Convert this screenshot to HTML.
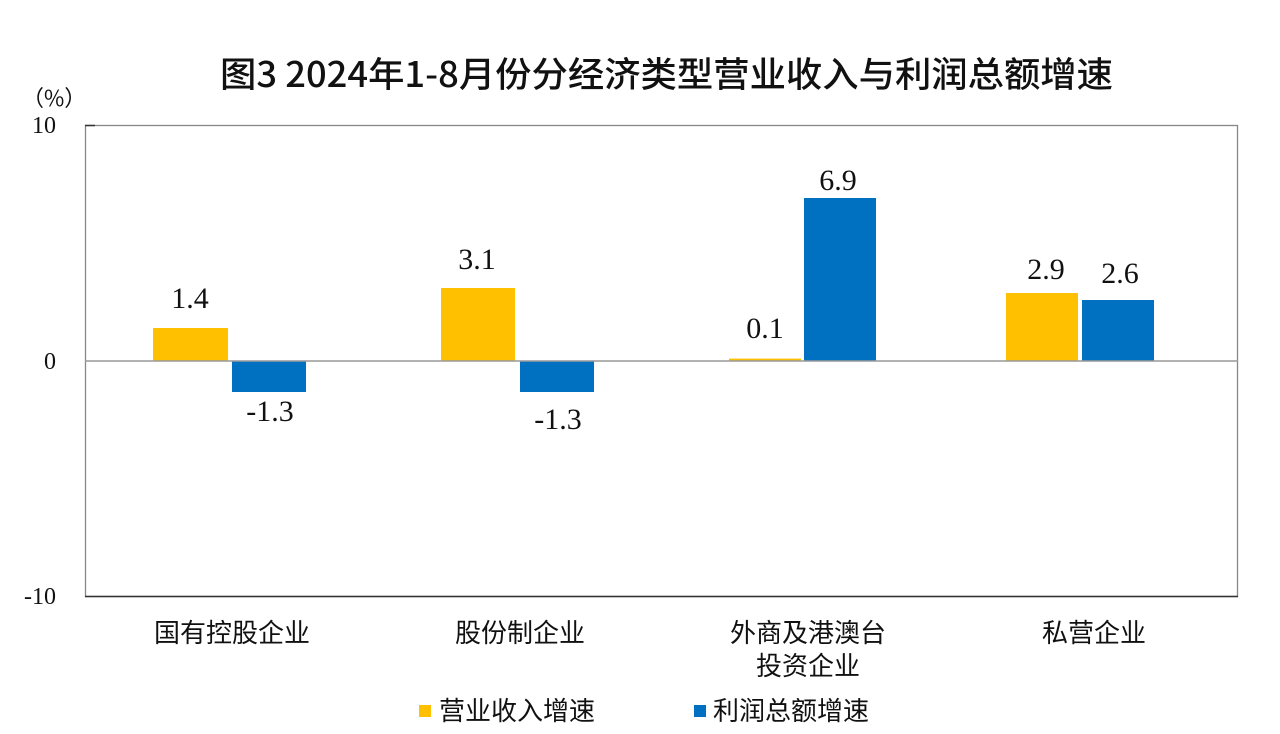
<!DOCTYPE html>
<html><head><meta charset="utf-8"><style>
html,body{margin:0;padding:0;background:#fff;}
svg{display:block;}
.v{font-family:"Liberation Serif",serif;font-size:30px;fill:#111;text-anchor:middle;}
.t{font-family:"Liberation Serif",serif;font-size:24px;fill:#111;}
.c{font-family:"Liberation Sans","Noto Sans CJK SC",sans-serif;font-size:26px;fill:#111;text-anchor:middle;}
</style></head><body>
<svg width="1280" height="734" viewBox="0 0 1280 734">
<text x="220" y="87" textLength="893" lengthAdjust="spacingAndGlyphs" style="font-family:'Noto Sans CJK SC',sans-serif;font-size:35px;font-weight:500;fill:#111">图3 2024年1-8月份分经济类型营业收入与利润总额增速</text>
<text x="22" y="106" style="font-family:'Noto Sans CJK SC',sans-serif;font-size:22px;fill:#111">（%）</text>
<rect x="85.5" y="125.5" width="1152" height="471" fill="none" stroke="#888" stroke-width="1.3"/>
<line x1="85" y1="125.5" x2="95" y2="125.5" stroke="#333" stroke-width="1.5"/>
<line x1="85" y1="596.5" x2="1238" y2="596.5" stroke="#333" stroke-width="1.5"/>
<text class="t" x="56" y="133" text-anchor="end">10</text>
<text class="t" x="56" y="369" text-anchor="end">0</text>
<text class="t" x="56" y="604" text-anchor="end">-10</text>
<rect x="153" y="328" width="75" height="33" fill="#FFC000"/>
<rect x="232" y="361" width="74" height="31" fill="#0070C0"/>
<rect x="441" y="288" width="74" height="73" fill="#FFC000"/>
<rect x="520" y="361" width="74" height="31" fill="#0070C0"/>
<rect x="729" y="358.6" width="72" height="2.4" fill="#FFC000"/>
<rect x="804" y="198" width="72" height="163" fill="#0070C0"/>
<rect x="1006" y="293" width="72" height="68" fill="#FFC000"/>
<rect x="1082" y="300" width="72" height="61" fill="#0070C0"/>
<line x1="85" y1="361" x2="1238" y2="361" stroke="#999" stroke-width="1.5"/>
<text class="v" x="190" y="308">1.4</text>
<text class="v" x="270" y="421">-1.3</text>
<text class="v" x="477" y="269">3.1</text>
<text class="v" x="558" y="429">-1.3</text>
<text class="v" x="765" y="338">0.1</text>
<text class="v" x="838" y="190">6.9</text>
<text class="v" x="1046" y="279">2.9</text>
<text class="v" x="1120" y="283">2.6</text>
<text class="c" x="232" y="642">国有控股企业</text>
<text class="c" x="520" y="642">股份制企业</text>
<text class="c" x="808" y="642">外商及港澳台</text>
<text class="c" x="808" y="675">投资企业</text>
<text class="c" x="1094" y="642">私营企业</text>
<rect x="419" y="705" width="12" height="12" fill="#FFC000"/>
<text x="439" y="720" style="font-family:'Noto Sans CJK SC',sans-serif;font-size:26px;fill:#111">营业收入增速</text>
<rect x="694" y="705" width="12" height="12" fill="#0070C0"/>
<text x="713" y="720" style="font-family:'Noto Sans CJK SC',sans-serif;font-size:26px;fill:#111">利润总额增速</text>
</svg>
</body></html>
